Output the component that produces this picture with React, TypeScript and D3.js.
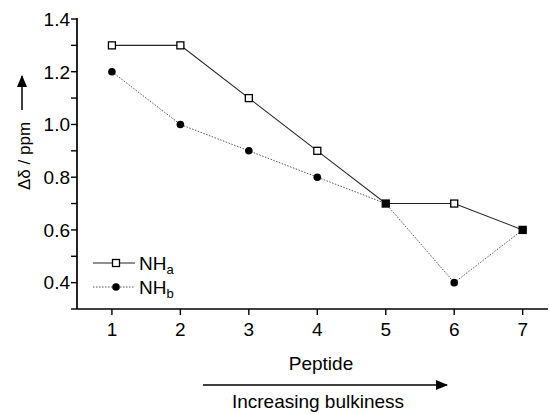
import React from "react";
import * as d3 from "d3";

const peptides = [1, 2, 3, 4, 5, 6, 7];
const nhA = [1.3, 1.3, 1.1, 0.9, 0.7, 0.7, 0.6];
const nhB = [1.2, 1.0, 0.9, 0.8, 0.7, 0.4, 0.6];
const yTickLabels = [0.4, 0.6, 0.8, 1.0, 1.2, 1.4];
const yMinorTicks = [0.3, 0.5, 0.7, 0.9, 1.1, 1.3];

const W = 549, H = 414;
const left = 77, right = 548, top = 19, bottom = 309;
const FONT = "Liberation Sans, Arial, sans-serif";
const FS = 19;

export default function App() {
  const x = d3.scaleLinear().domain([0.49, 7.37]).range([left, right]);
  const y = d3.scaleLinear().domain([0.3, 1.4]).range([bottom, top]);
  const line = d3.line<number>().x((_, i) => x(peptides[i])).y(d => y(d));

  return (
    <svg width={W} height={H} style={{ position: "absolute", left: 0, top: 0, background: "#fff" }} fontFamily={FONT}>
      <defs>
        <marker id="ah" viewBox="0 0 12 10" refX="11" refY="5" markerWidth="12" markerHeight="10" markerUnits="userSpaceOnUse" orient="auto">
          <path d="M0,0 L12,5 L0,10 Z" fill="#000" />
        </marker>
      </defs>
      {/* axes */}
      <line x1={left} x2={left} y1={top - 1} y2={bottom} stroke="#000" strokeWidth={1.7} />
      <line x1={left} x2={right} y1={bottom} y2={bottom} stroke="#000" strokeWidth={1.7} />
      {yTickLabels.map(v => (
        <g key={"yl" + v}>
          <line x1={left - 6} x2={left} y1={y(v)} y2={y(v)} stroke="#000" strokeWidth={1.4} />
          <text x={left - 7} y={y(v)} dy="0.36em" textAnchor="end" fontSize={FS}>{v.toFixed(1)}</text>
        </g>
      ))}
      {yMinorTicks.map(v => (
        <line key={"ym" + v} x1={left - 6} x2={left} y1={y(v)} y2={y(v)} stroke="#000" strokeWidth={1.4} />
      ))}
      {peptides.map(p => (
        <g key={"x" + p}>
          <line x1={x(p)} x2={x(p)} y1={bottom} y2={bottom + 6} stroke="#000" strokeWidth={1.4} />
          <text x={x(p)} y={bottom + 27} textAnchor="middle" fontSize={FS}>{p}</text>
        </g>
      ))}
      {/* axis titles */}
      <text x={321} y={370} textAnchor="middle" fontSize={FS}>Peptide</text>
      <line x1={203} x2={447} y1={385} y2={385} stroke="#000" strokeWidth={1.4} markerEnd="url(#ah)" />
      <text x={318} y={408} textAnchor="middle" fontSize={FS}>Increasing bulkiness</text>
      <g transform="translate(30,190) rotate(-90)">
        <text x={0} y={0} fontSize={17}>Δδ / ppm</text>
        <line x1={80} x2={114} y1={-8} y2={-8} stroke="#000" strokeWidth={1.5} markerEnd="url(#ah)" />
      </g>
      {/* series */}
      <path d={line(nhB) || ""} fill="none" stroke="#555" strokeWidth={1} strokeDasharray="1.5,1.5" />
      <path d={line(nhA) || ""} fill="none" stroke="#222" strokeWidth={1.1} />
      {nhA.map((v, i) => (
        <rect key={"a" + i} x={x(peptides[i]) - 3.5} y={y(v) - 3.5} width={7} height={7}
          fill={nhB[i] === v ? "#000" : "#fff"} stroke="#000" strokeWidth={1.3} />
      ))}
      {nhB.map((v, i) => nhA[i] === v ? null : (
        <circle key={"b" + i} cx={x(peptides[i])} cy={y(v)} r={3.8} fill="#000" />
      ))}
      {/* legend */}
      <line x1={93} x2={135} y1={263} y2={263} stroke="#222" strokeWidth={1.1} />
      <rect x={112.5} y={259.5} width={7} height={7} fill="#fff" stroke="#000" strokeWidth={1.3} />
      <text x={139} y={270} fontSize={FS}>NH<tspan fontSize={13} dy={4}>a</tspan></text>
      <line x1={93} x2={135} y1={287} y2={287} stroke="#555" strokeWidth={1} strokeDasharray="1.5,1.5" />
      <circle cx={116} cy={287} r={3.8} fill="#000" />
      <text x={139} y={294} fontSize={FS}>NH<tspan fontSize={13} dy={4}>b</tspan></text>
    </svg>
  );
}
